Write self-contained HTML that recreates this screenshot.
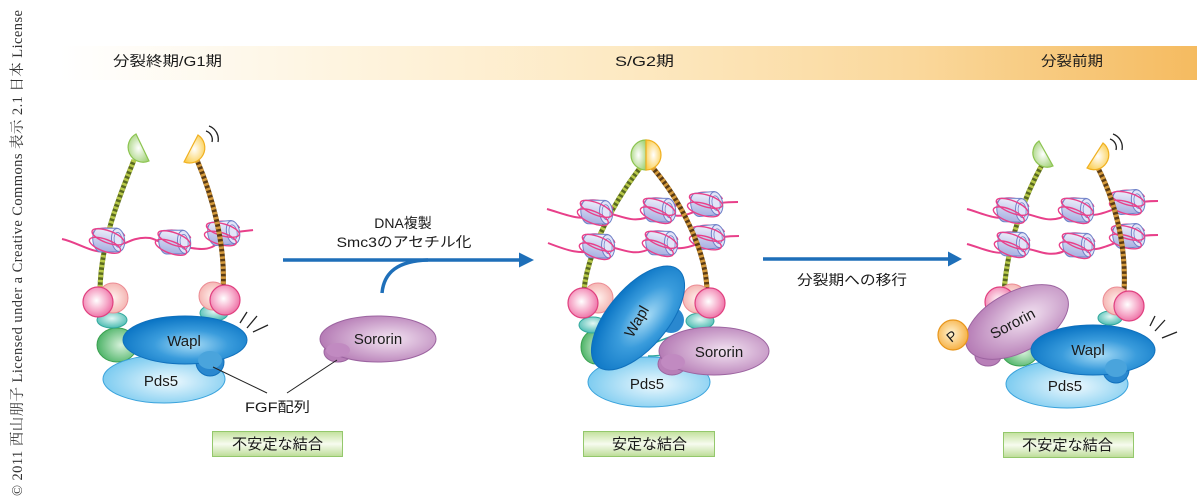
<!DOCTYPE html>
<html>
<head>
<meta charset="utf-8">
<style>
html,body{margin:0;padding:0;background:#fff;}
svg{display:block;}
text{font-family:"Liberation Sans","Noto Sans CJK JP",sans-serif;fill:#1a1a1a;}
.serif{font-family:"Liberation Serif","Noto Serif CJK SC",serif;fill:#333;}
</style>
</head>
<body>
<svg width="1200" height="504" viewBox="0 0 1200 504" xmlns="http://www.w3.org/2000/svg">
<defs>
  <linearGradient id="hdr" x1="0" y1="0" x2="1" y2="0">
    <stop offset="0" stop-color="#ffffff"/>
    <stop offset="0.25" stop-color="#fef4df"/>
    <stop offset="0.5" stop-color="#fde9c2"/>
    <stop offset="0.75" stop-color="#fad89c"/>
    <stop offset="1" stop-color="#f5bb60"/>
  </linearGradient>
  <radialGradient id="gWapl" cx="0.55" cy="0.6" r="0.6">
    <stop offset="0" stop-color="#a8dcf6"/>
    <stop offset="0.5" stop-color="#3a9cdc"/>
    <stop offset="1" stop-color="#0a74c4"/>
  </radialGradient>
  <radialGradient id="gPds" cx="0.55" cy="0.55" r="0.6">
    <stop offset="0" stop-color="#eef9fe"/>
    <stop offset="1" stop-color="#74c8ef"/>
  </radialGradient>
  <radialGradient id="gSor" cx="0.6" cy="0.5" r="0.6">
    <stop offset="0" stop-color="#f3e4f2"/>
    <stop offset="1" stop-color="#b57bb5"/>
  </radialGradient>
  <radialGradient id="gPink" cx="0.45" cy="0.45" r="0.6">
    <stop offset="0" stop-color="#ffffff"/>
    <stop offset="0.6" stop-color="#f6a8c8"/>
    <stop offset="1" stop-color="#ec6aa2"/>
  </radialGradient>
  <radialGradient id="gSal" cx="0.5" cy="0.5" r="0.6">
    <stop offset="0" stop-color="#fff2ee"/>
    <stop offset="1" stop-color="#f3aaa8"/>
  </radialGradient>
  <radialGradient id="gTeal" cx="0.5" cy="0.4" r="0.6">
    <stop offset="0" stop-color="#e2f7f4"/>
    <stop offset="1" stop-color="#4cbcb2"/>
  </radialGradient>
  <radialGradient id="gGreen" cx="0.6" cy="0.5" r="0.6">
    <stop offset="0" stop-color="#d6f1da"/>
    <stop offset="1" stop-color="#4db367"/>
  </radialGradient>
  <radialGradient id="gCapG" cx="0.5" cy="0.5" r="0.6">
    <stop offset="0" stop-color="#ffffff"/>
    <stop offset="1" stop-color="#a4d37a"/>
  </radialGradient>
  <radialGradient id="gCapY" cx="0.5" cy="0.5" r="0.6">
    <stop offset="0" stop-color="#ffffff"/>
    <stop offset="1" stop-color="#fbcd4c"/>
  </radialGradient>
  <radialGradient id="gP" cx="0.45" cy="0.45" r="0.6">
    <stop offset="0" stop-color="#fff4d4"/>
    <stop offset="1" stop-color="#f6ac3a"/>
  </radialGradient>
  <linearGradient id="gNuc" x1="0" y1="0" x2="0" y2="1">
    <stop offset="0" stop-color="#f3f4fd"/>
    <stop offset="1" stop-color="#a3ace0"/>
  </linearGradient>
  <linearGradient id="gBox" x1="0" y1="0" x2="0" y2="1">
    <stop offset="0" stop-color="#c2e19c"/>
    <stop offset="0.5" stop-color="#f7fbef"/>
    <stop offset="1" stop-color="#bcdc96"/>
  </linearGradient>
  <g id="nuc">
    <path d="M-16,-4 C-14,-14 13,-14 16,-6" fill="none" stroke="#e8408a" stroke-width="1.4"/>
    <path d="M-12,-10 L7,-13 A7,12 -15 0 1 13,10 L-6,13 A7,12 -15 0 1 -12,-10 Z" fill="url(#gNuc)" stroke="#6f80c8" stroke-width="1"/>
    <ellipse cx="10" cy="-1.5" rx="6.5" ry="11.5" transform="rotate(-15 10 -1.5)" fill="#e2e5f8" stroke="#6f80c8" stroke-width="1"/>
    <ellipse cx="10" cy="-1.5" rx="4" ry="7.5" transform="rotate(-15 10 -1.5)" fill="none" stroke="#6f80c8" stroke-width="0.8"/>
    <ellipse cx="-1" cy="-3" rx="17" ry="6" transform="rotate(12)" fill="none" stroke="#e8408a" stroke-width="1.4"/>
    <ellipse cx="-1" cy="6" rx="16.5" ry="6" transform="rotate(12)" fill="none" stroke="#e8408a" stroke-width="1.4"/>
  </g>
</defs>

<!-- copyright -->
<text class="serif" transform="translate(22,496) rotate(-90)" font-size="14.5" textLength="486" lengthAdjust="spacing">© 2011 西山朋子 Licensed under a Creative Commons 表示 2.1 日本 License</text>

<!-- header bar -->
<rect x="60" y="46" width="1137" height="34" fill="url(#hdr)"/>
<text x="113" y="66" font-size="14" textLength="109" lengthAdjust="spacingAndGlyphs">分裂終期/G1期</text>
<text x="615" y="66" font-size="14" textLength="59" lengthAdjust="spacingAndGlyphs">S/G2期</text>
<text x="1041" y="66" font-size="14" textLength="62" lengthAdjust="spacingAndGlyphs">分裂前期</text>

<!-- ================= LEFT PANEL ================= -->
<path d="M62,239 C80,243 95,256 110,250 C125,244 135,236 150,238 C160,240 165,248 176,247 C190,246 200,252 212,247 C220,243 224,236 232,233 C240,231 248,231 253,230" fill="none" stroke="#e8408a" stroke-width="2"/>
<path d="M134,160 C120,195 101,240 100,290" fill="none" stroke="#5a6a20" stroke-width="5"/>
<path d="M134,160 C120,195 101,240 100,290" fill="none" stroke="#b8c94a" stroke-width="5" stroke-dasharray="2.5 2.5"/>
<use href="#nuc" transform="translate(108,240) rotate(8)"/>
<use href="#nuc" transform="translate(174,242) rotate(8)"/>
<use href="#nuc" transform="translate(223,233) rotate(4)"/>
<path d="M197,160 C212,195 226,245 223,290" fill="none" stroke="#5c3c14" stroke-width="5"/>
<path d="M197,160 C212,195 226,245 223,290" fill="none" stroke="#d49a3c" stroke-width="5" stroke-dasharray="2.5 2.5"/>
<path d="M136,134 A15,15 0 0 0 149,161 Z" fill="url(#gCapG)" stroke="#8cc450" stroke-width="1.2"/>
<path d="M198,135 A15.3,15.3 0 0 1 184,162 Z" fill="url(#gCapY)" stroke="#f0b020" stroke-width="1.2"/>
<path d="M206,131 A9,9 0 0 1 212,142" fill="none" stroke="#222" stroke-width="1.3"/>
<path d="M209,126 A14,14 0 0 1 218,142" fill="none" stroke="#222" stroke-width="1.3"/>

<ellipse cx="117" cy="345" rx="20" ry="17" fill="url(#gGreen)" stroke="#3aa050" stroke-width="1"/>
<ellipse cx="112" cy="320" rx="15" ry="8" fill="url(#gTeal)" stroke="#30a89c" stroke-width="1"/>
<ellipse cx="214" cy="313" rx="14" ry="8" fill="url(#gTeal)" stroke="#30a89c" stroke-width="1"/>
<circle cx="113" cy="298" r="15" fill="url(#gSal)" stroke="#ec8c94" stroke-width="1"/>
<circle cx="98" cy="302" r="15" fill="url(#gPink)" stroke="#e0407f" stroke-width="1.2"/>
<circle cx="213" cy="296" r="14" fill="url(#gSal)" stroke="#ec8c94" stroke-width="1"/>
<circle cx="225" cy="300" r="15" fill="url(#gPink)" stroke="#e0407f" stroke-width="1.2"/>
<ellipse cx="164" cy="379" rx="61" ry="24" fill="url(#gPds)" stroke="#3aa3dc" stroke-width="1"/>
<circle cx="210" cy="362" r="14" fill="#2a88cf" stroke="#1070bc" stroke-width="1"/>
<ellipse cx="185" cy="340" rx="62" ry="24" fill="url(#gWapl)" stroke="#1070bc" stroke-width="1"/>
<ellipse cx="210" cy="360" rx="12" ry="9" fill="#4aa4dc"/>
<text x="184" y="346" font-size="15" text-anchor="middle">Wapl</text>
<text x="161" y="386" font-size="15" text-anchor="middle">Pds5</text>
<g stroke="#222" stroke-width="1.3">
  <line x1="240" y1="323" x2="247" y2="312"/>
  <line x1="247" y1="328" x2="257" y2="316"/>
  <line x1="253" y1="332" x2="268" y2="325"/>
</g>
<ellipse cx="338" cy="352" rx="14" ry="10" fill="#b87fb8" stroke="#9c64a0" stroke-width="1"/>
<ellipse cx="378" cy="339" rx="58" ry="23" fill="url(#gSor)" stroke="#9c64a0" stroke-width="1"/>
<ellipse cx="338" cy="350" rx="12" ry="7" fill="#c18ac1"/>
<text x="378" y="344" font-size="15" text-anchor="middle">Sororin</text>
<line x1="213" y1="367" x2="267" y2="393" stroke="#222" stroke-width="1"/>
<line x1="337" y1="360" x2="287" y2="393" stroke="#222" stroke-width="1"/>
<text x="245" y="412" font-size="14" textLength="65" lengthAdjust="spacingAndGlyphs">FGF配列</text>
<rect x="212.5" y="431.5" width="130" height="25" fill="url(#gBox)" stroke="#94c86c" stroke-width="1"/>
<text x="232" y="449" font-size="15" textLength="91" lengthAdjust="spacingAndGlyphs">不安定な結合</text>

<!-- arrow 1 -->
<line x1="283" y1="260" x2="521" y2="260" stroke="#1e6fb9" stroke-width="3.5"/>
<polygon points="519,252.5 534,260 519,267.5" fill="#1e6fb9"/>
<path d="M382,293 C384,272 398,261 428,260" fill="none" stroke="#1e6fb9" stroke-width="3.5"/>
<text x="403" y="228" font-size="14" text-anchor="middle">DNA複製</text>
<text x="404" y="247" font-size="14" text-anchor="middle" textLength="135" lengthAdjust="spacingAndGlyphs">Smc3のアセチル化</text>

<!-- ================= MIDDLE PANEL ================= -->
<path d="M547,209 C565,214 580,222 596,215 C612,208 625,224 645,218 C652,215 655,210 662,212 C680,220 690,214 706,206 C715,203 725,202 738,202" fill="none" stroke="#e8408a" stroke-width="2"/>
<path d="M548,243 C566,250 582,256 598,249 C615,242 628,258 647,250 C655,246 658,244 664,246 C682,252 694,245 708,240 C718,237 728,236 739,236" fill="none" stroke="#e8408a" stroke-width="2"/>
<path d="M640,168 C615,200 588,250 584,290" fill="none" stroke="#5a6a20" stroke-width="5"/>
<path d="M640,168 C615,200 588,250 584,290" fill="none" stroke="#b8c94a" stroke-width="5" stroke-dasharray="2.5 2.5"/>
<use href="#nuc" transform="translate(596,212) rotate(10)"/>
<use href="#nuc" transform="translate(659,210) rotate(10)"/>
<use href="#nuc" transform="translate(706,204) rotate(4)"/>
<use href="#nuc" transform="translate(598,246) rotate(10)"/>
<use href="#nuc" transform="translate(661,243) rotate(10)"/>
<use href="#nuc" transform="translate(708,237) rotate(4)"/>
<path d="M653,168 C680,200 706,250 707,290" fill="none" stroke="#5c3c14" stroke-width="5"/>
<path d="M653,168 C680,200 706,250 707,290" fill="none" stroke="#d49a3c" stroke-width="5" stroke-dasharray="2.5 2.5"/>
<path d="M646,140 A15,15 0 0 0 646,170 Z" fill="url(#gCapG)" stroke="#8cc450" stroke-width="1.2"/>
<path d="M646,140 A15,15 0 0 1 646,170 Z" fill="url(#gCapY)" stroke="#f0b020" stroke-width="1.2"/>

<ellipse cx="596" cy="347" rx="15" ry="17" fill="url(#gGreen)" stroke="#3aa050" stroke-width="1"/>
<ellipse cx="593" cy="325" rx="14" ry="8" fill="url(#gTeal)" stroke="#30a89c" stroke-width="1"/>
<ellipse cx="700" cy="321" rx="14" ry="8" fill="url(#gTeal)" stroke="#30a89c" stroke-width="1"/>
<circle cx="598" cy="298" r="15" fill="url(#gSal)" stroke="#ec8c94" stroke-width="1"/>
<circle cx="583" cy="303" r="15" fill="url(#gPink)" stroke="#e0407f" stroke-width="1.2"/>
<circle cx="697" cy="299" r="14" fill="url(#gSal)" stroke="#ec8c94" stroke-width="1"/>
<circle cx="710" cy="303" r="15" fill="url(#gPink)" stroke="#e0407f" stroke-width="1.2"/>
<path d="M650,345 C660,340 675,335 690,330 M648,356 C660,356 672,354 680,350" fill="none" stroke="#30a89c" stroke-width="1.5"/>
<ellipse cx="649" cy="382" rx="61" ry="25" fill="url(#gPds)" stroke="#3aa3dc" stroke-width="1"/>
<circle cx="671" cy="320" r="13" fill="#2a88cf"/>
<ellipse cx="638" cy="318" rx="63" ry="30" transform="rotate(-50 638 318)" fill="url(#gWapl)" stroke="#1070bc" stroke-width="1"/>
<text x="0" y="0" font-size="15" text-anchor="middle" transform="translate(641,324) rotate(-60)">Wapl</text>
<text x="647" y="389" font-size="15" text-anchor="middle">Pds5</text>
<ellipse cx="672" cy="364" rx="14" ry="11" fill="#b87fb8" stroke="#9c64a0" stroke-width="1"/>
<ellipse cx="714" cy="351" rx="55" ry="24" fill="url(#gSor)" stroke="#9c64a0" stroke-width="1"/>
<ellipse cx="673" cy="362" rx="12" ry="8" fill="#c18ac1"/>
<text x="719" y="357" font-size="15" text-anchor="middle">Sororin</text>
<rect x="583.5" y="431.5" width="131" height="25" fill="url(#gBox)" stroke="#94c86c" stroke-width="1"/>
<text x="612" y="449" font-size="15" textLength="75" lengthAdjust="spacingAndGlyphs">安定な結合</text>

<!-- arrow 2 -->
<line x1="763" y1="259" x2="950" y2="259" stroke="#1e6fb9" stroke-width="3.5"/>
<polygon points="948,251.5 962,259 948,266.5" fill="#1e6fb9"/>
<text x="797" y="285" font-size="14" textLength="110" lengthAdjust="spacingAndGlyphs">分裂期への移行</text>

<!-- ================= RIGHT PANEL ================= -->
<path d="M967,209 C985,214 998,222 1012,215 C1028,208 1040,224 1060,218 C1067,215 1070,210 1078,212 C1095,220 1110,210 1128,204 C1138,202 1148,201 1158,201" fill="none" stroke="#e8408a" stroke-width="2"/>
<path d="M967,244 C985,249 998,257 1013,250 C1030,243 1042,259 1062,252 C1068,249 1072,245 1079,247 C1096,254 1110,244 1128,238 C1138,236 1148,235 1158,235" fill="none" stroke="#e8408a" stroke-width="2"/>
<path d="M1043,163 C1025,195 1008,240 1004,292" fill="none" stroke="#5a6a20" stroke-width="5"/>
<path d="M1043,163 C1025,195 1008,240 1004,292" fill="none" stroke="#b8c94a" stroke-width="5" stroke-dasharray="2.5 2.5"/>
<use href="#nuc" transform="translate(1012,210) rotate(10)"/>
<use href="#nuc" transform="translate(1077,210) rotate(10)"/>
<use href="#nuc" transform="translate(1128,202) rotate(4)"/>
<use href="#nuc" transform="translate(1013,244) rotate(10)"/>
<use href="#nuc" transform="translate(1078,245) rotate(10)"/>
<use href="#nuc" transform="translate(1128,236) rotate(4)"/>
<path d="M1098,168 C1112,195 1127,240 1124,292" fill="none" stroke="#5c3c14" stroke-width="5"/>
<path d="M1098,168 C1112,195 1127,240 1124,292" fill="none" stroke="#d49a3c" stroke-width="5" stroke-dasharray="2.5 2.5"/>
<path d="M1039,141 A14.4,14.4 0 0 0 1053,166 Z" fill="url(#gCapG)" stroke="#8cc450" stroke-width="1.2"/>
<path d="M1103,143 A14.9,14.9 0 0 1 1087,168 Z" fill="url(#gCapY)" stroke="#f0b020" stroke-width="1.2"/>
<path d="M1110,139 A9,9 0 0 1 1116,150" fill="none" stroke="#222" stroke-width="1.3"/>
<path d="M1113,134 A14,14 0 0 1 1122,150" fill="none" stroke="#222" stroke-width="1.3"/>

<circle cx="1012" cy="298" r="14" fill="url(#gSal)" stroke="#ec8c94" stroke-width="1"/>
<circle cx="1000" cy="302" r="15" fill="url(#gPink)" stroke="#e0407f" stroke-width="1.2"/>
<ellipse cx="1110" cy="318" rx="12" ry="7" fill="url(#gTeal)" stroke="#30a89c" stroke-width="1"/>
<circle cx="1117" cy="301" r="14" fill="url(#gSal)" stroke="#ec8c94" stroke-width="1"/>
<circle cx="1129" cy="306" r="15" fill="url(#gPink)" stroke="#e0407f" stroke-width="1.2"/>
<ellipse cx="1020" cy="352" rx="18" ry="14" fill="url(#gGreen)" stroke="#3aa050" stroke-width="1"/>
<ellipse cx="988" cy="356" rx="13" ry="10" fill="#b87fb8" stroke="#9c64a0" stroke-width="1"/>
<ellipse cx="1017" cy="322" rx="56" ry="30" transform="rotate(-28 1017 322)" fill="url(#gSor)" stroke="#9c64a0" stroke-width="1"/>
<text x="0" y="0" font-size="15" text-anchor="middle" transform="translate(1015,328) rotate(-28)">Sororin</text>
<circle cx="953" cy="335" r="15" fill="url(#gP)" stroke="#e8961c" stroke-width="1.2"/>
<text x="0" y="0" font-size="14" text-anchor="middle" transform="translate(955,340) rotate(-40)">P</text>
<ellipse cx="1067" cy="384" rx="61" ry="24" fill="url(#gPds)" stroke="#3aa3dc" stroke-width="1"/>
<circle cx="1116" cy="370" r="13" fill="#2a88cf" stroke="#1070bc" stroke-width="1"/>
<ellipse cx="1093" cy="350" rx="62" ry="25" fill="url(#gWapl)" stroke="#1070bc" stroke-width="1"/>
<ellipse cx="1116" cy="368" rx="11" ry="9" fill="#4aa4dc"/>
<text x="1088" y="355" font-size="15" text-anchor="middle">Wapl</text>
<text x="1065" y="391" font-size="15" text-anchor="middle">Pds5</text>
<g stroke="#222" stroke-width="1.3">
  <line x1="1150" y1="326" x2="1155" y2="316"/>
  <line x1="1155" y1="331" x2="1165" y2="320"/>
  <line x1="1162" y1="338" x2="1177" y2="332"/>
</g>
<rect x="1003.5" y="432.5" width="130" height="25" fill="url(#gBox)" stroke="#94c86c" stroke-width="1"/>
<text x="1022" y="450" font-size="15" textLength="91" lengthAdjust="spacingAndGlyphs">不安定な結合</text>
</svg>
</body>
</html>
